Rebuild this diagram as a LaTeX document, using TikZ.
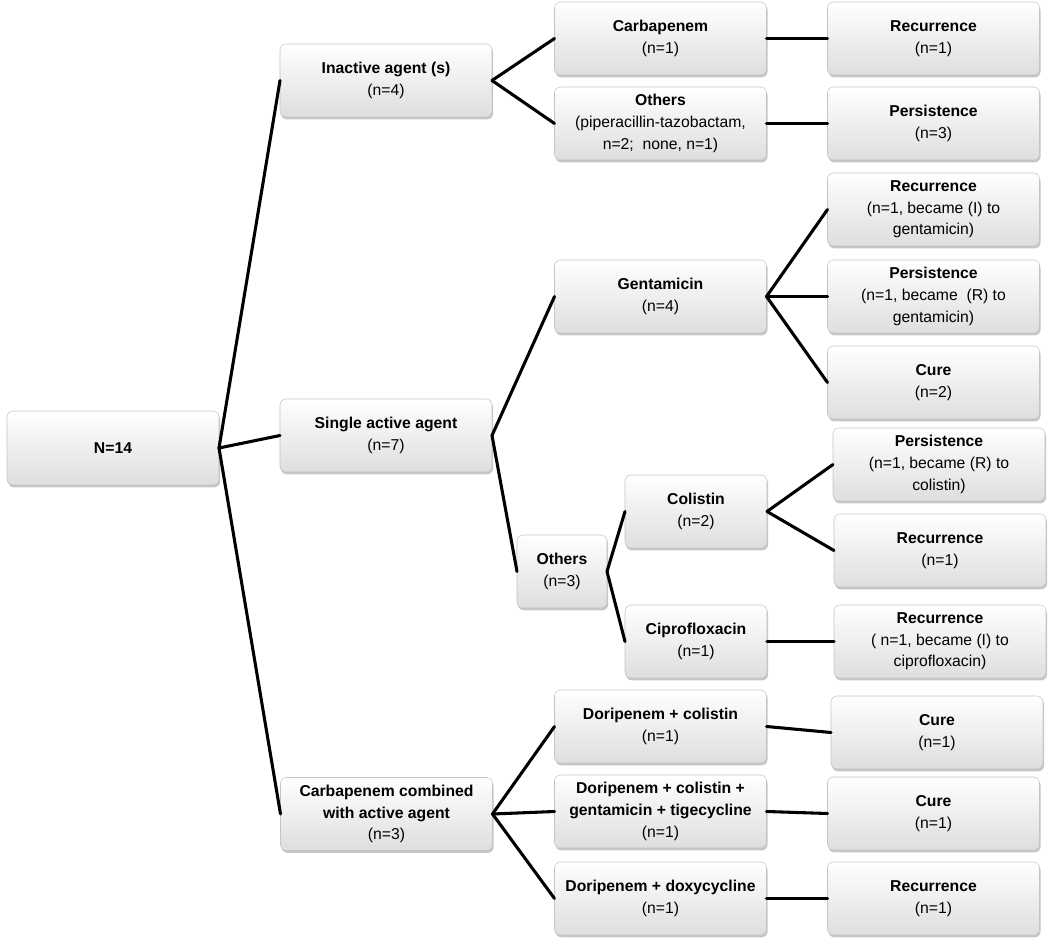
\documentclass[tikz,border=0pt]{standalone}
\usepackage{fontspec}
\setmainfont{Liberation Sans}
\usetikzlibrary{shadows}
\definecolor{boxedge}{HTML}{C4C4C4}
\definecolor{boxtop}{HTML}{FFFFFF}
\definecolor{boxbottom}{HTML}{DEDEDE}
\tikzset{%
    outcome/.style={%
        rounded corners=4.5pt, draw=boxedge, thin,
        top color=boxtop, bottom color=boxbottom,
        drop shadow={shadow xshift=0.8pt, shadow yshift=-1.8pt, opacity=0.45},
        minimum width=159pt, minimum height=54.75pt,
        align=center, inner sep=2pt, outer sep=0pt,
        font=\fontsize{11.8}{16.2}\selectfont
    },
    link/.style={line width=2.3pt, line cap=round}
}

\begin{document}
\begin{tikzpicture}[x=0.75pt, y=-0.75pt]

    \useasboundingbox (0, 0) rectangle (1050, 945);

    %%%%%%%%%%%%
    % Root and first split
    \node[outcome, minimum width=159pt, minimum height=55.5pt] (root) at (113, 448)
        {\textbf{N=14}};

    \node[outcome] (inactive) at (386, 80.5)
        {\textbf{Inactive agent (s)}\\(n=4)};
    \node[outcome] (single) at (386, 435.5)
        {\textbf{Single active agent}\\(n=7)};
    \node[outcome] (combined) at (386.5, 814)
        {\textbf{Carbapenem combined}\\\textbf{with active agent}\\(n=3)};

    %%%%%%%%%%%%
    % Treatments
    \node[outcome] (carba) at (660.5, 38.5)
        {\textbf{Carbapenem}\\(n=1)};
    \node[outcome] (others-inactive) at (660.5, 123.5)
        {\textbf{Others}\\(piperacillin-tazobactam,\\n=2;\ \ none, n=1)};
    \node[outcome] (genta) at (660.5, 296.5)
        {\textbf{Gentamicin}\\(n=4)};
    \node[outcome, minimum width=67.5pt] (others-single) at (562, 571.5)
        {\textbf{Others}\\(n=3)};
    \node[outcome, minimum width=106.5pt] (colistin) at (696, 511.5)
        {\textbf{Colistin}\\(n=2)};
    \node[outcome, minimum width=106.5pt] (cipro) at (696, 641.5)
        {\textbf{Ciprofloxacin}\\(n=1)};
    \node[outcome] (dori-col) at (660.5, 726.5)
        {\textbf{Doripenem + colistin}\\(n=1)};
    \node[outcome] (dori-cgt) at (660.5, 811.5)
        {\textbf{Doripenem + colistin +}\\\textbf{gentamicin + tigecycline}\\(n=1)};
    \node[outcome] (dori-dox) at (660.5, 898.5)
        {\textbf{Doripenem + doxycycline}\\(n=1)};

    %%%%%%%%%%%%
    % Outcomes
    \node[outcome] (rec-carba) at (933.5, 38.5)
        {\textbf{Recurrence}\\(n=1)};
    \node[outcome] (pers-others) at (933.5, 123.5)
        {\textbf{Persistence}\\(n=3)};
    \node[outcome] (rec-genta) at (933.5, 209.5)
        {\textbf{Recurrence}\\(n=1, became (I) to\\gentamicin)};
    \node[outcome] (pers-genta) at (933.5, 296.5)
        {\textbf{Persistence}\\(n=1, became\ \ (R) to\\gentamicin)};
    \node[outcome] (cure-genta) at (933.5, 382.5)
        {\textbf{Cure}\\(n=2)};
    \node[outcome] (pers-col) at (939, 464.5)
        {\textbf{Persistence}\\(n=1, became (R) to\\colistin)};
    \node[outcome] (rec-col) at (940, 550.5)
        {\textbf{Recurrence}\\(n=1)};
    \node[outcome] (rec-cipro) at (940, 641.5)
        {\textbf{Recurrence}\\( n=1, became (I) to\\ciprofloxacin)};
    \node[outcome] (cure-col) at (937, 732.5)
        {\textbf{Cure}\\(n=1)};
    \node[outcome] (cure-cgt) at (933.5, 813.5)
        {\textbf{Cure}\\(n=1)};
    \node[outcome] (rec-dox) at (933.5, 898.5)
        {\textbf{Recurrence}\\(n=1)};

    %%%%%%%%%%%%
    % Branches
    \foreach \from/\to in {%
        root/inactive, root/single, root/combined,
        inactive/carba, inactive/others-inactive,
        single/genta, single/others-single,
        others-single/colistin, others-single/cipro,
        combined/dori-col, combined/dori-cgt, combined/dori-dox,
        carba/rec-carba, others-inactive/pers-others,
        genta/rec-genta, genta/pers-genta, genta/cure-genta,
        colistin/pers-col, colistin/rec-col, cipro/rec-cipro,
        dori-col/cure-col, dori-cgt/cure-cgt, dori-dox/rec-dox%
    }{%
        \draw[link] (\from.east) -- (\to.west);
    };

\end{tikzpicture}
\end{document}
